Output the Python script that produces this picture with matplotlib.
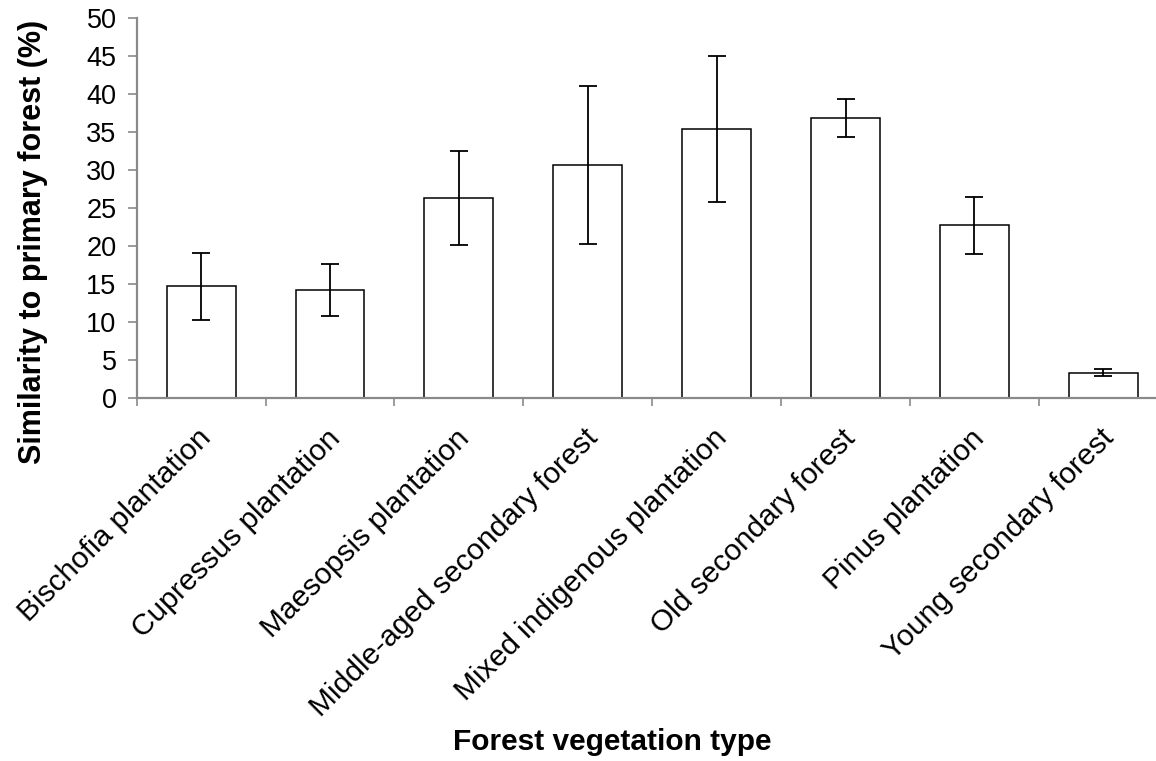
import matplotlib
matplotlib.use("Agg")
import matplotlib.pyplot as plt
import matplotlib.transforms as mtransforms
import numpy as np

categories = [
    "Bischofia plantation",
    "Cupressus plantation",
    "Maesopsis plantation",
    "Middle-aged secondary forest",
    "Mixed indigenous plantation",
    "Old secondary forest",
    "Pinus plantation",
    "Young secondary forest",
]
similarity = [14.7, 14.2, 26.3, 30.7, 35.4, 36.8, 22.7, 3.3]
errors = [4.4, 3.4, 6.2, 10.4, 9.6, 2.5, 3.7, 0.5]
y_ticks = [0, 5, 10, 15, 20, 25, 30, 35, 40, 45, 50]

plt.rcParams["font.family"] = ["Liberation Sans", "DejaVu Sans"]

W, H = 1156, 761
fig = plt.figure(figsize=(W / 100, H / 100), dpi=100)
ax = fig.add_axes([136.7 / W, 1 - 397.7 / H, 1031 / W, (397.7 - 18.3) / H])

x = np.arange(len(categories))
ax.bar(x, similarity, width=0.535, color="white", edgecolor="black",
       linewidth=1.1, zorder=2)
ax.errorbar(x, similarity, yerr=errors, fmt="none", ecolor="black",
            elinewidth=1.3, capsize=6.5, capthick=1.3, zorder=3)

ax.set_xlim(-0.5, len(categories) - 0.5)
ax.set_ylim(0, 50)
ax.set_yticks(y_ticks)
ax.set_yticklabels([str(v) for v in y_ticks], fontsize=19.5)

gray = "#8a8a8a"
for side in ("top", "right"):
    ax.spines[side].set_visible(False)
for side in ("left", "bottom"):
    ax.spines[side].set_color(gray)
    ax.spines[side].set_linewidth(1.6)

ax.tick_params(axis="y", direction="out", length=6.5, width=1.2, color=gray,
               pad=8)

# category labels at bar centers, tick marks at category boundaries
ax.set_xticks(x)
ax.set_xticklabels(categories, rotation=45, ha="right",
                   rotation_mode="anchor", fontsize=21.5)
ax.tick_params(axis="x", which="major", length=0, pad=19)
shift = mtransforms.ScaledTranslation(-4 / 100, 0, fig.dpi_scale_trans)
for lbl in ax.get_xticklabels():
    lbl.set_transform(lbl.get_transform() + shift)
ax.set_xticks(np.arange(len(categories) + 1) - 0.5, minor=True)
ax.tick_params(axis="x", which="minor", direction="out", length=6, width=1.2,
               color=gray)

fig.text(612 / W, 1 - 742 / H, "Forest vegetation type", fontsize=21.5,
         fontweight="bold", ha="center", va="center")
fig.text(33 / W, 1 - 241.5 / H, "Similarity to primary forest (%)",
         fontsize=22, fontweight="bold", ha="center", va="center",
         rotation=90)

fig.savefig("out.png", dpi=100)
